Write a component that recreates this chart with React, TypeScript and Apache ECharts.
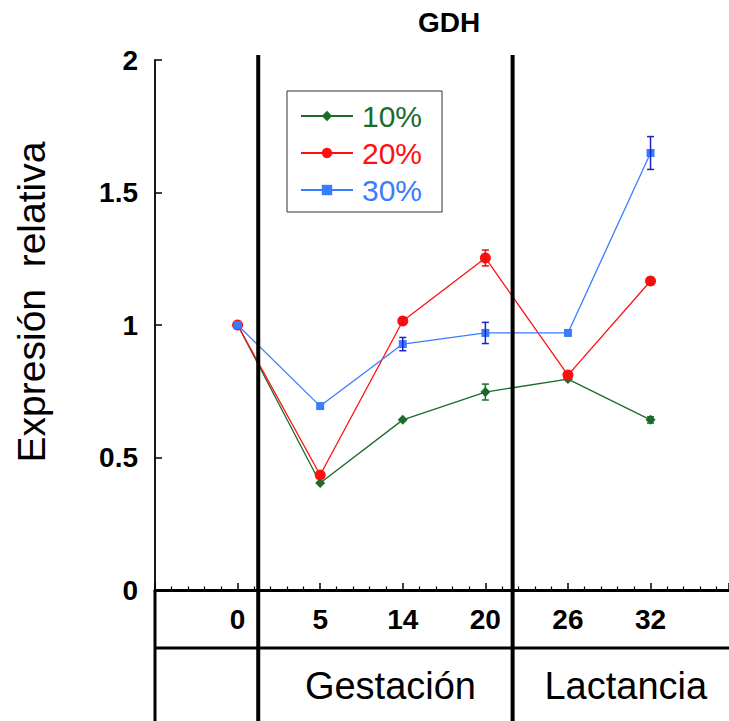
import React, { useEffect, useRef } from 'react';
import * as echarts from 'echarts';

// Sampling days (category labels along the x axis)
const days = ['0', '5', '14', '20', '26', '32'];

// Relative GDH expression per diet group, with error bar half-widths
const names = ['10%', '20%', '30%'];
const expr10 = [1.0, 0.404, 0.642, 0.747, 0.796, 0.642];
const err10 = [0, 0, 0, 0.03, 0, 0.012];
const expr20 = [1.0, 0.434, 1.015, 1.253, 0.811, 1.166];
const err20 = [0, 0, 0.01, 0.03, 0, 0.01];
const expr30 = [1.0, 0.694, 0.928, 0.97, 0.97, 1.649];
const err30 = [0, 0, 0.025, 0.04, 0, 0.062];

// Phase labels shown in the bottom table row
const phaseLabels = ['Gestación', 'Lactancia'];

const FONT = '"Liberation Sans", Arial, sans-serif';
const colors = ['#1b6b2b', '#ff1010', '#3a7cff'];
const errColors = ['#1b6b2b', '#e01010', '#2020c8'];
const symbols = ['diamond', 'circle', 'rect'];
const symbolSizes = [10, 11, 8];

function toPoints(vals: number[]) {
  return vals.map((v, i) => [i, v]);
}
function toErrors(vals: number[], errs: number[]) {
  return vals
    .map((v, i) => [i, v - errs[i], v + errs[i], errs[i]])
    .filter((d) => d[3] > 0);
}

export default function App() {
  const ref = useRef<HTMLDivElement>(null);

  useEffect(() => {
    if (!ref.current) return;
    const chart = echarts.init(ref.current, undefined, { renderer: 'svg' });

    const values = [expr10, expr20, expr30];
    const errs = [err10, err20, err30];

    const lineSeries = names.map((n, k) => ({
      type: 'line',
      name: n,
      data: toPoints(values[k]),
      symbol: symbols[k],
      symbolSize: symbolSizes[k],
      showAllSymbol: true,
      lineStyle: { color: colors[k], width: 1.3 },
      itemStyle: { color: colors[k] },
      z: 3 + k,
    }));

    const errSeries = names.map((n, k) => ({
      type: 'custom',
      name: n + ' error',
      data: toErrors(values[k], errs[k]),
      z: 6,
      renderItem: (params: any, api: any) => {
        const x = api.value(0);
        const lo = api.coord([x, api.value(1)]);
        const hi = api.coord([x, api.value(2)]);
        const cap = 3.5;
        const style = { stroke: errColors[k], lineWidth: 1.5 };
        return {
          type: 'group',
          children: [
            { type: 'line', shape: { x1: lo[0], y1: lo[1], x2: hi[0], y2: hi[1] }, style },
            { type: 'line', shape: { x1: lo[0] - cap, y1: lo[1], x2: lo[0] + cap, y2: lo[1] }, style },
            { type: 'line', shape: { x1: hi[0] - cap, y1: hi[1], x2: hi[0] + cap, y2: hi[1] }, style },
          ],
        };
      },
    }));

    chart.setOption({
      animation: false,
      backgroundColor: '#ffffff',
      title: {
        text: 'GDH',
        left: 444,
        top: 3,
        textAlign: 'center',
        textStyle: { fontFamily: FONT, fontWeight: 'bold', fontSize: 28, color: '#000' },
      },
      legend: {
        data: names.map((n, k) => ({ name: n, textStyle: { color: colors[k] } })),
        orient: 'vertical',
        left: 287,
        top: 91,
        padding: [10, 20, 7, 13],
        itemWidth: 52,
        itemHeight: 13,
        itemGap: 7,
        borderColor: '#333',
        borderWidth: 1,
        textStyle: { fontFamily: FONT, fontSize: 30, padding: [0, 0, 0, 4] },
      },
      grid: { left: 155, top: 60, right: 0, height: 530, outerBoundsMode: 'none' },
      xAxis: {
        type: 'value',
        min: -1,
        max: 5.95,
        interval: 1,
        splitLine: { show: false },
        axisLine: { lineStyle: { color: '#000', width: 3 } },
        axisTick: { inside: true, length: 7, lineStyle: { color: '#000', width: 1.5 } },
        minorTick: { show: true, splitNumber: 5, length: 3.5, lineStyle: { color: '#000', width: 1.2 } },
        axisLabel: {
          margin: 15,
          fontFamily: FONT,
          fontWeight: 'bold',
          fontSize: 28,
          color: '#000',
          formatter: (v: number) => (Number.isInteger(v) && v >= 0 && v < days.length ? days[v] : ''),
        },
      },
      yAxis: {
        type: 'value',
        min: 0,
        max: 2,
        interval: 0.5,
        splitLine: { show: false },
        axisLine: { onZero: false, lineStyle: { color: '#000', width: 1.8 } },
        axisTick: { inside: true, length: 7, lineStyle: { color: '#000', width: 1.5 } },
        axisLabel: { margin: 17, fontFamily: FONT, fontWeight: 'bold', fontSize: 28, color: '#000' },
      },
      series: [...lineSeries, ...errSeries],
    });

    // Table-like dividers below and across the plot
    const px = (v: number) => chart.convertToPixel({ xAxisIndex: 0 }, v) as number;
    const py = (v: number) => chart.convertToPixel({ yAxisIndex: 0 }, v) as number;
    const W = 729;
    const H = 721;
    const left = px(-1);
    const base = py(0);
    const sepA = px(0.25);
    const sepB = px(3.33);
    const rowY = base + 58;
    const black = { stroke: '#000' };

    chart.setOption({
      graphic: [
        { type: 'line', z: 20, shape: { x1: sepA, y1: 55, x2: sepA, y2: H }, style: { ...black, lineWidth: 4 } },
        { type: 'line', z: 20, shape: { x1: sepB, y1: 55, x2: sepB, y2: H }, style: { ...black, lineWidth: 4 } },
        { type: 'line', z: 20, shape: { x1: left, y1: base, x2: left, y2: H }, style: { ...black, lineWidth: 3 } },
        { type: 'line', z: 20, shape: { x1: left, y1: rowY, x2: W, y2: rowY }, style: { ...black, lineWidth: 3 } },
        {
          type: 'text', z: 20, x: (sepA + sepB) / 2 + 5, y: (rowY + H) / 2 + 1,
          style: { text: phaseLabels[0], fontFamily: FONT, fontSize: 38, fill: '#000', textAlign: 'center', textVerticalAlign: 'middle' },
        },
        {
          type: 'text', z: 20, x: (sepB + W) / 2 + 5, y: (rowY + H) / 2 + 1,
          style: { text: phaseLabels[1], fontFamily: FONT, fontSize: 38, fill: '#000', textAlign: 'center', textVerticalAlign: 'middle' },
        },
        {
          type: 'text', z: 20, x: 31, y: 302, rotation: Math.PI / 2,
          style: { text: 'Expresión  relativa', fontFamily: FONT, fontSize: 39, fill: '#000', textAlign: 'center', textVerticalAlign: 'middle' },
        },
      ],
    });

    return () => chart.dispose();
  }, []);

  return (
    <div
      ref={ref}
      style={{ position: 'fixed', left: 0, top: 0, width: 729, height: 721, background: '#fff' }}
    />
  );
}
